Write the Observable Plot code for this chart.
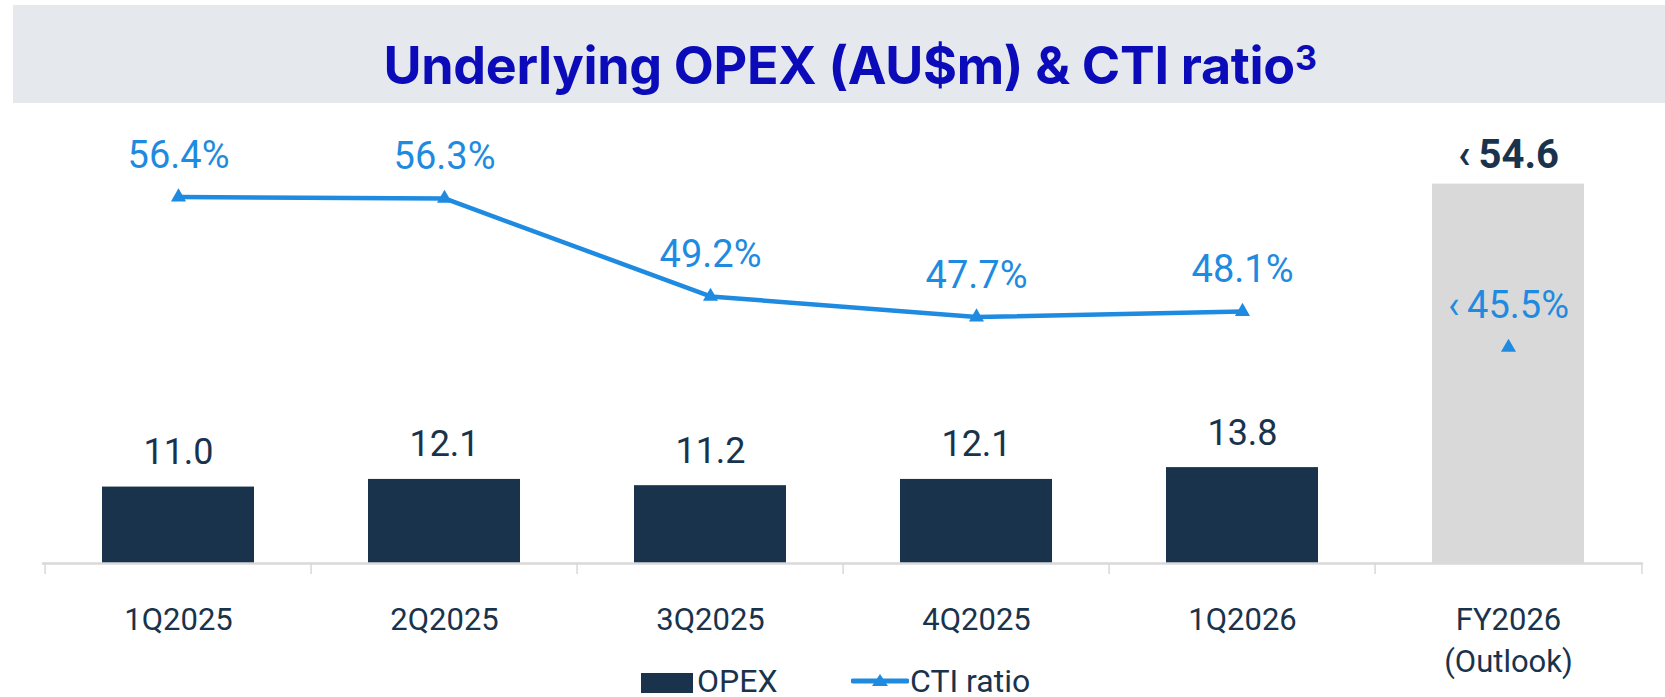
<!DOCTYPE html>
<html>
<head>
<meta charset="utf-8">
<script src="https://cdn.jsdelivr.net/npm/d3@7"></script>
<script src="https://cdn.jsdelivr.net/npm/@observablehq/plot@0.6"></script>
<style>
  html, body { margin: 0; padding: 0; background: #ffffff; }
  body { position: relative; width: 1665px; height: 697px; overflow: hidden; font-family: Roboto, sans-serif; }
  #title { position: absolute; left: 13px; top: 5px; width: 1652px; height: 98px; background: #e5e8ec; }
  #title span { position: absolute; left: 0; width: 100%; padding-left: 22px; box-sizing: border-box; text-align: center; top: 35px; line-height: 52px; font-family: Inter, sans-serif; font-weight: 700; font-size: 52px; color: #0b0bb9; letter-spacing: -0.3px; white-space: nowrap; }
  #title sup { font-size: 34px; vertical-align: 14px; line-height: 0; }
  #chart { position: absolute; left: 0; top: 103px; }
  .leg { position: absolute; top: 665px; line-height: 32px; font-size: 32px; color: #1a334d; font-family: Roboto, sans-serif; white-space: nowrap; }
</style>
</head>
<body>
<div id="title"><span>Underlying OPEX (AU$m) &amp; CTI ratio<sup>3</sup></span></div>
<div id="chart"></div>
<div id="legend"></div>
<script>
// ---- data ----
const categories = ["1Q2025", "2Q2025", "3Q2025", "4Q2025", "1Q2026", "FY2026 (Outlook)"];
const quarters = ["1Q2025", "2Q2025", "3Q2025", "4Q2025", "1Q2026"];
const opex = [11.0, 12.1, 11.2, 12.1, 13.8];
const ctiRatio = [56.4, 56.3, 49.2, 47.7, 48.1];
const outlookCategory = ["FY2026 (Outlook)"];
const opexOutlook = [54.6];
const ctiOutlook = [45.5];
const opexOutlookLabel = ["\u2039\u200954.6"];
const ctiOutlookLabel = ["\u2039\u200945.5%"];

// ---- colors ----
const navy = "#1a334d";
const blue = "#1f8be0";
const grey = "#d9d9d9";

// secondary (CTI %) axis mapped onto primary OPEX axis
const yDomain = [0, 66.2];
const ctiDomain = [29.84, 63.18];
const ctiToY = d3.scaleLinear(ctiDomain, yDomain);

const quarterRows = quarters.map((q, i) => ({cat: q, opex: opex[i], cti: ctiRatio[i]}));
const outlookRows = outlookCategory.map((c, i) => ({cat: c, opex: opexOutlook[i], cti: ctiOutlook[i], opexLabel: opexOutlookLabel[i], ctiLabel: ctiOutlookLabel[i]}));

const W = 1665, H = 563, mL = 42, mR = 22;
const bw = (W - mL - mR) / categories.length;

const chart = Plot.plot({
  width: W,
  height: H,
  marginLeft: mL,
  marginRight: mR,
  marginTop: 0,
  marginBottom: 103,
  style: {fontFamily: "Roboto, sans-serif", color: navy, background: "transparent", overflow: "visible"},
  x: {domain: categories, padding: 0, axis: null},
  y: {domain: yDomain, axis: null},
  marks: [
    Plot.barY(quarterRows, {x: "cat", y: "opex", fill: navy, insetLeft: 57, insetRight: 57}),
    Plot.barY(outlookRows, {x: "cat", y: "opex", fill: grey, insetLeft: 57, insetRight: 57}),
    Plot.ruleY([0], {stroke: grey, strokeWidth: 2.5}),
    Plot.ruleX(categories, {x: d => d, y1: 0, y2: -1.6, dx: -bw / 2, stroke: grey, strokeWidth: 1.5}),
    Plot.ruleX(categories.slice(-1), {x: d => d, y1: 0, y2: -1.6, dx: bw / 2, stroke: grey, strokeWidth: 1.5}),
    Plot.axisX({label: null, tickSize: 0, tickPadding: 37, fontSize: 31, lineHeight: 1.35, fill: navy,
      tickFormat: d => d.replace(" ", "\n")}),
    Plot.text(quarterRows, {x: "cat", y: "opex", text: d => d.opex.toFixed(1), dy: -34.5, fontSize: 36, fill: navy}),
    Plot.text(outlookRows, {x: "cat", y: "opex", text: "opexLabel", dy: -29, fontSize: 40, fontWeight: 700, fill: navy}),
    Plot.line(quarterRows, {x: "cat", y: d => ctiToY(d.cti), stroke: blue, strokeWidth: 4.5}),
    Plot.dot(quarterRows, {x: "cat", y: d => ctiToY(d.cti), symbol: "triangle", r: 5.6, fill: blue}),
    Plot.dot(outlookRows, {x: "cat", y: d => ctiToY(d.cti), symbol: "triangle", r: 5.6, fill: blue}),
    Plot.text(quarterRows, {x: "cat", y: d => ctiToY(d.cti), text: d => d.cti.toFixed(1) + "%", dy: -41.5, fontSize: 38, fill: blue}),
    Plot.text(outlookRows, {x: "cat", y: d => ctiToY(d.cti), text: "ctiLabel", dy: -41.5, fontSize: 38, fill: blue})
  ]
});
document.getElementById("chart").appendChild(chart);

// ---- legend (HTML, below the chart) ----
const legend = document.getElementById("legend");
legend.innerHTML = `
  <div style="position:absolute;left:641px;top:673px;width:52px;height:20px;background:${navy}"></div>
  <div class="leg" style="left:697px">OPEX</div>
  <svg style="position:absolute;left:851px;top:672px" width="58" height="18">
    <line x1="2" y1="9" x2="56" y2="9" stroke="${blue}" stroke-width="5" stroke-linecap="round"/>
    <path d="M29,2 L37,14 L21,14 Z" fill="${blue}"/>
  </svg>
  <div class="leg" style="left:910px">CTI ratio</div>`;
</script>
</body>
</html>
